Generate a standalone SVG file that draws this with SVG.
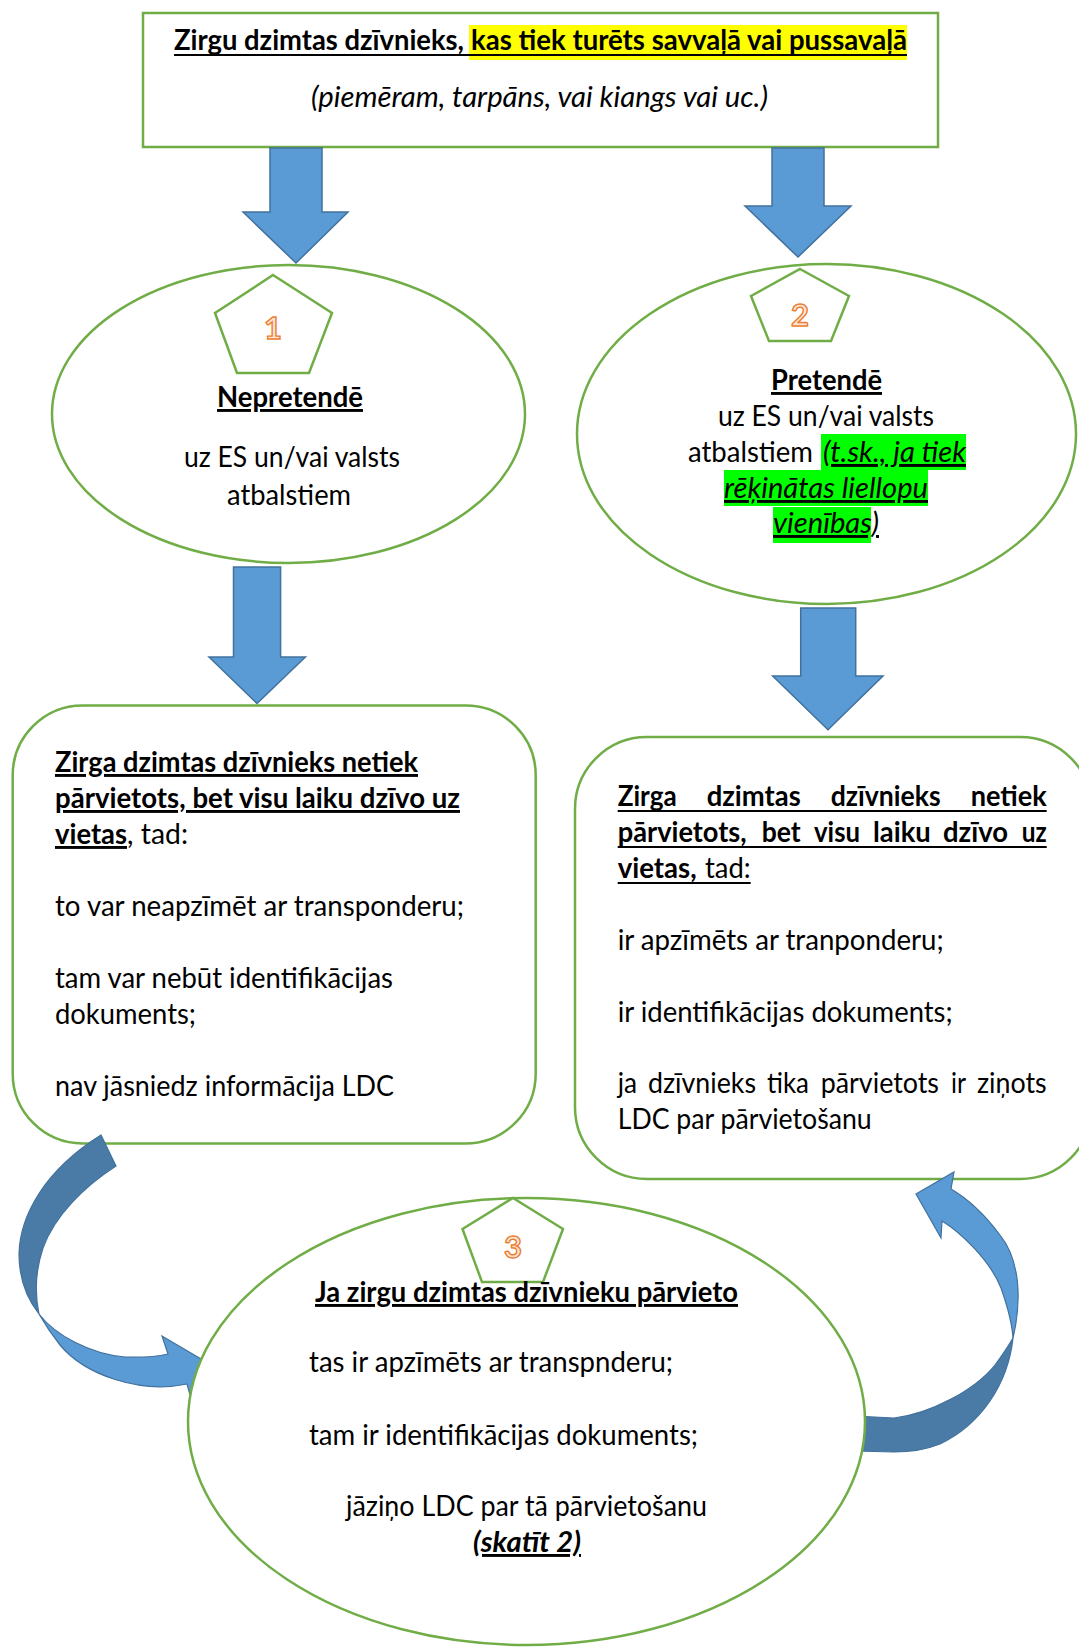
<svg xmlns="http://www.w3.org/2000/svg" width="1079" height="1648" viewBox="0 0 1079 1648">
<style>
text{font-family:Lato,"Noto Sans","DejaVu Sans",sans-serif;font-size:29px;fill:#000}
.b{font-weight:700}
.i{font-style:italic}
.u{text-decoration:underline}
.shape{fill:#fff;stroke:#70AD47;stroke-width:2.5}
.pent{fill:#fff;stroke:#70AD47;stroke-width:2.5}
.arr{fill:#5B9BD5;stroke:#41719C;stroke-width:1.5}
.dark{fill:#4A7BA7;stroke:#41719C;stroke-width:1.2}
.light{fill:#5B9BD5;stroke:#41719C;stroke-width:1.2}
.num{font-size:31px;font-weight:700;fill:#FBE5D6;stroke:#ED7D31;stroke-width:1.4;text-anchor:middle}
.ul{stroke:#000;stroke-width:2}
</style>
<rect width="1079" height="1648" fill="#fff"/>

<g id="node-top">
<rect class="shape" x="143" y="13" width="795" height="134"/>
<rect x="469" y="25" width="438" height="35" fill="#FFFF00"/>
<text class="b" x="174" y="50" textLength="290" lengthAdjust="spacingAndGlyphs">Zirgu dzimtas dzīvnieks,</text>
<text class="b" x="471" y="50" textLength="436" lengthAdjust="spacingAndGlyphs">kas tiek turēts savvaļā vai pussavaļā</text>
<line class="ul" x1="174" y1="55" x2="907" y2="55"/>
<text class="i" x="311" y="107" textLength="457" lengthAdjust="spacingAndGlyphs">(piemēram, tarpāns, vai kiangs vai uc.)</text>
</g>

<g id="node-1">
<ellipse class="shape" cx="288.5" cy="414" rx="236.5" ry="149"/>
<polygon class="pent" points="273,275 332,313 309,373 237,373 215,313"/>
<text class="num" x="273" y="339">1</text>
<text class="b u" x="217" y="407" textLength="146" lengthAdjust="spacingAndGlyphs">Nepretendē</text>
<text x="184" y="467" textLength="216" lengthAdjust="spacingAndGlyphs">uz ES un/vai valsts</text>
<text x="227" y="505" textLength="124" lengthAdjust="spacingAndGlyphs">atbalstiem</text>
</g>

<g id="node-2">
<ellipse class="shape" cx="826.5" cy="434" rx="249.5" ry="170"/>
<polygon class="pent" points="800,269 849,296 831,341 769,341 751,296"/>
<text class="num" x="800" y="326">2</text>
<text class="b u" x="771" y="390" textLength="111" lengthAdjust="spacingAndGlyphs">Pretendē</text>
<text x="718" y="426" textLength="216" lengthAdjust="spacingAndGlyphs">uz ES un/vai valsts</text>
<text x="688" y="462" textLength="125" lengthAdjust="spacingAndGlyphs">atbalstiem</text>
<rect x="821" y="434" width="145" height="36" fill="#00FF00"/>
<rect x="724" y="470" width="204" height="36" fill="#00FF00"/>
<rect x="773" y="507" width="98" height="36" fill="#00FF00"/>
<text class="i u" x="823" y="462" textLength="143" lengthAdjust="spacingAndGlyphs">(t.sk., ja tiek</text>
<text class="i u" x="724" y="498" textLength="204" lengthAdjust="spacingAndGlyphs">rēķinātas liellopu</text>
<text class="i u" x="773" y="533" textLength="106" lengthAdjust="spacingAndGlyphs">vienības)</text>
</g>

<g id="node-box1">
<rect class="shape" x="12.7" y="705.4" width="523" height="438" rx="70"/>
<text class="b u" x="55" y="772" textLength="363" lengthAdjust="spacingAndGlyphs">Zirga dzimtas dzīvnieks netiek</text>
<text class="b u" x="55" y="808" textLength="405" lengthAdjust="spacingAndGlyphs">pārvietots, bet visu laiku dzīvo uz</text>
<text class="b u" x="55" y="844" textLength="72" lengthAdjust="spacingAndGlyphs">vietas</text>
<text x="127" y="844" textLength="61" lengthAdjust="spacingAndGlyphs">, tad:</text>
<text x="55" y="916" textLength="409" lengthAdjust="spacingAndGlyphs">to var neapzīmēt ar transponderu;</text>
<text x="55" y="988" textLength="338" lengthAdjust="spacingAndGlyphs">tam var nebūt identifikācijas</text>
<text x="55" y="1024" textLength="141" lengthAdjust="spacingAndGlyphs">dokuments;</text>
<text x="55" y="1096" textLength="339" lengthAdjust="spacingAndGlyphs">nav jāsniedz informācija LDC</text>
</g>

<g id="node-box2">
<rect class="shape" x="575" y="737" width="517" height="442" rx="72"/>
<text class="b" x="617.7" y="806" textLength="59" lengthAdjust="spacingAndGlyphs">Zirga</text>
<text class="b" x="706.7" y="806" textLength="94" lengthAdjust="spacingAndGlyphs">dzimtas</text>
<text class="b" x="830.7" y="806" textLength="110" lengthAdjust="spacingAndGlyphs">dzīvnieks</text>
<text class="b" x="970.7" y="806" textLength="76" lengthAdjust="spacingAndGlyphs">netiek</text>
<text class="b" x="617.7" y="842" textLength="129" lengthAdjust="spacingAndGlyphs">pārvietots,</text>
<text class="b" x="761.7" y="842" textLength="39" lengthAdjust="spacingAndGlyphs">bet</text>
<text class="b" x="814" y="842" textLength="46" lengthAdjust="spacingAndGlyphs">visu</text>
<text class="b" x="873" y="842" textLength="57.7" lengthAdjust="spacingAndGlyphs">laiku</text>
<text class="b" x="943" y="842" textLength="65" lengthAdjust="spacingAndGlyphs">dzīvo</text>
<text class="b" x="1021.7" y="842" textLength="25" lengthAdjust="spacingAndGlyphs">uz</text>
<text class="b" x="617.7" y="878" textLength="79" lengthAdjust="spacingAndGlyphs">vietas,</text>
<text x="705" y="878" textLength="45.7" lengthAdjust="spacingAndGlyphs">tad:</text>
<line class="ul" x1="617.7" y1="811" x2="1046.7" y2="811"/>
<line class="ul" x1="617.7" y1="847" x2="1046.7" y2="847"/>
<line class="ul" x1="617.7" y1="883" x2="750.7" y2="883"/>
<text x="617.7" y="950" textLength="326" lengthAdjust="spacingAndGlyphs">ir apzīmēts ar tranponderu;</text>
<text x="617.7" y="1022" textLength="335" lengthAdjust="spacingAndGlyphs">ir identifikācijas dokuments;</text>
<text x="617.7" y="1093" textLength="19.3" lengthAdjust="spacingAndGlyphs">ja</text>
<text x="648" y="1093" textLength="108" lengthAdjust="spacingAndGlyphs">dzīvnieks</text>
<text x="767" y="1093" textLength="42" lengthAdjust="spacingAndGlyphs">tika</text>
<text x="820.7" y="1093" textLength="118.3" lengthAdjust="spacingAndGlyphs">pārvietots</text>
<text x="951" y="1093" textLength="15" lengthAdjust="spacingAndGlyphs">ir</text>
<text x="977" y="1093" textLength="69.7" lengthAdjust="spacingAndGlyphs">ziņots</text>
<text x="617.7" y="1129" textLength="254" lengthAdjust="spacingAndGlyphs">LDC par pārvietošanu</text>
</g>

<g id="connectors">
<polygon class="arr" points="270,148 322,148 322,212 348,212 296,263 243,212 270,212"/>
<polygon class="arr" points="772,148 824,148 824,206 851,206 798,257 745,206 772,206"/>
<polygon class="arr" points="233.5,567 280.6,567 280.6,657 305.4,657 257,703.5 209,657 233.5,657"/>
<polygon class="arr" points="800.7,608 855.7,608 855.7,676 883,676 828,729.7 772.7,676 800.7,676"/>
<g id="curved-left">
<path class="dark" d="M101,1135 L116,1166 C85,1186 55,1215 43,1248 C35,1272 35,1295 39,1314 C28,1300 19,1280 19,1254 C20,1215 45,1170 101,1135 Z"/>
<path class="light" d="M39,1314 C55,1335 90,1354 125,1357 Q150,1358 168,1354 L162,1336 L230,1376 L197,1420 L187,1384 C140,1394 85,1375 60,1345 Q48,1330 39,1314 Z"/>
</g>
<g id="curved-right">
<path class="dark" d="M855,1416 L894,1418 C930,1414 975,1390 995,1365 Q1006,1350 1013,1338 C1008,1385 980,1425 940,1444 C925,1450 910,1452 894,1452 L855,1451 Z"/>
<path class="light" d="M1013,1338 C1022,1300 1020,1260 1000,1235 C985,1215 970,1200 951,1189 L954,1172 L916,1194 L941,1238 L942,1221 C960,1232 990,1260 1001,1288 C1007,1305 1012,1322 1013,1338 Z"/>
</g>
</g>

<g id="node-3">
<ellipse class="shape" cx="526.5" cy="1421.5" rx="338.5" ry="223.5"/>
<polygon class="pent" points="513,1198 563,1229 543,1282 482,1282 462.5,1229"/>
<text class="num" x="513" y="1258">3</text>
<text class="b u" x="315" y="1302" textLength="423" lengthAdjust="spacingAndGlyphs">Ja zirgu dzimtas dzīvnieku pārvieto</text>
<text x="309" y="1372" textLength="364" lengthAdjust="spacingAndGlyphs">tas ir apzīmēts ar transpnderu;</text>
<text x="309" y="1445" textLength="389" lengthAdjust="spacingAndGlyphs">tam ir identifikācijas dokuments;</text>
<text x="346" y="1516" textLength="361" lengthAdjust="spacingAndGlyphs">jāziņo LDC par tā pārvietošanu</text>
<text class="b i u" x="473" y="1552" textLength="108" lengthAdjust="spacingAndGlyphs">(skatīt 2)</text>
</g>
</svg>
